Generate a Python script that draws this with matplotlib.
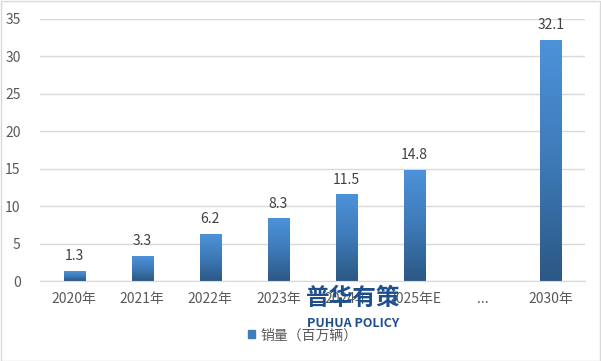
import numpy as np
import matplotlib.pyplot as plt
from matplotlib.colors import LinearSegmentedColormap
from matplotlib.patches import Rectangle

plt.rcParams['font.family'] = ['Noto Sans CJK SC', 'DejaVu Sans']

# 数据
categorias = ['2020年', '2021年', '2022年', '2023年', '2024年', '2025年E', '...', '2030年']
valores = [1.3, 3.3, 6.2, 8.3, 11.5, 14.8, np.nan, 32.1]
etiquetas = ['1.3', '3.3', '6.2', '8.3', '11.5', '14.8', '', '32.1']
serie = '销量（百万辆）'

fig = plt.figure(figsize=(6.01, 3.61), dpi=100)
ax = fig.add_axes([0.0666, 0.2216, 0.9068, 0.7258])

x = np.arange(len(categorias))
barras = ax.bar(x, np.nan_to_num(valores), width=0.31, color='#3F7CBA', zorder=2, label=serie)

# degradado en cada barra (claro arriba, oscuro abajo)
cmap = LinearSegmentedColormap.from_list('grad', ['#2C5884', '#3E7AB8', '#4D92D9'])
grad = np.linspace(0, 1, 256).reshape(-1, 1)
for b in barras:
    h = b.get_height()
    if h <= 0:
        continue
    x0 = b.get_x()
    w = b.get_width()
    b.set_facecolor('none')
    ax.imshow(grad, cmap=cmap, origin='lower', aspect='auto',
              extent=(x0, x0 + w, 0, h), zorder=2)

for b, t in zip(barras, etiquetas):
    if t:
        ax.text(b.get_x() + b.get_width() / 2, b.get_height() + 1.1, t,
                ha='center', va='bottom', fontsize=10, color='#404040')

ax.set_xlim(-0.5, len(categorias) - 0.5)
ax.set_ylim(0, 35)
ax.set_yticks(range(0, 36, 5))
ax.set_xticks(x)
ax.set_xticklabels(categorias)
ax.tick_params(axis='both', length=0, labelsize=10, colors='#595959')
ax.tick_params(axis='x', pad=8)
ax.tick_params(axis='y', pad=14)
ax.grid(axis='y', color='#D9D9D9', linewidth=1, zorder=0)
for s in ['top', 'right', 'left']:
    ax.spines[s].set_visible(False)
ax.spines['bottom'].set_color('#D9D9D9')

# leyenda
ax.legend(handles=[Rectangle((0, 0), 1, 1, color='#3F7CBA')], labels=[serie],
          loc='center', bbox_to_anchor=(0.4825, -0.207), frameon=False,
          fontsize=10, handlelength=0.5, handleheight=0.5, handletextpad=0.4,
          labelcolor='#595959')

# marca de agua
fig.text(0.587, 0.175, '普华有策', ha='center', va='center', fontsize=17,
         fontweight='bold', color='#1F4E8C', zorder=5)
fig.text(0.587, 0.105, 'PUHUA POLICY', ha='center', va='center', fontsize=9,
         fontweight='bold', color='#1F4E8C', zorder=5)

# borde
fig.patches.append(Rectangle((0.001, 0.001), 0.997, 0.996, transform=fig.transFigure,
                             fill=False, edgecolor='#D9D9D9', linewidth=1))

fig.savefig('out.png', dpi=100)
